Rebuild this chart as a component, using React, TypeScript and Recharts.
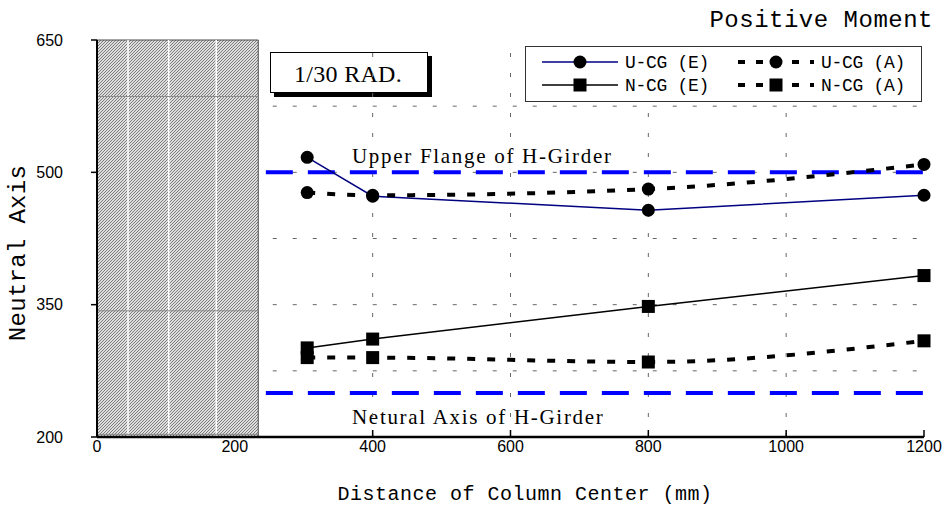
import React from 'react';
import {
  ComposedChart,
  Line,
  XAxis,
  YAxis,
  ReferenceArea,
  ReferenceLine,
  Legend,
  Customized,
} from 'recharts';

// ---- data ----
const distances = [305, 400, 800, 1200];
const ucgE = [517, 473, 457, 474];
const ucgA = [477, 474, 481, 509];
const ncgE = [301, 311, 348, 383];
const ncgA = [290, 290, 285, 309];

const xTicks = [0, 200, 400, 600, 800, 1000, 1200];
const yTicks = [200, 350, 500, 650];
const yGrid = [275, 350, 425, 500, 575];
const xGrid = [400, 600, 800, 1000];
const columnEdge = 234;
const gridStart = 255;
const upperFlange = 500;
const neutralAxisHG = 250;
const refLineStart = 245;
const hatchWhiteX = [45, 104, 173];
const hatchGrayY = [586, 343, 203];
const columnLetters = ['C', 'O', 'L', 'U', 'M', 'N'];

const data = distances.map((d, i) => ({
  x: d,
  ucgE: ucgE[i],
  ucgA: ucgA[i],
  ncgE: ncgE[i],
  ncgA: ncgA[i],
}));

const series = [
  { key: 'ucgE', name: 'U-CG (E)', color: '#000080', width: 1.5, dash: undefined, marker: 'circle', curve: 'linear' },
  { key: 'ncgE', name: 'N-CG (E)', color: '#000000', width: 1.5, dash: undefined, marker: 'square', curve: 'linear' },
  { key: 'ucgA', name: 'U-CG (A)', color: '#000000', width: 4, dash: '8 12', marker: 'circle', curve: 'monotone' },
  { key: 'ncgA', name: 'N-CG (A)', color: '#000000', width: 4, dash: '8 12', marker: 'square', curve: 'monotone' },
];

const MONO = '"Liberation Mono", "DejaVu Sans Mono", monospace';
const SANS = '"Liberation Sans", Arial, sans-serif';
const SERIF = '"Liberation Serif", "DejaVu Serif", serif';

const Circle = (props: any) => {
  const { cx, cy, index } = props;
  if (cx == null || cy == null) return <g key={index} />;
  return <circle key={index} cx={cx} cy={cy} r={6.5} fill="#000" stroke="none" />;
};
const Square = (props: any) => {
  const { cx, cy, index } = props;
  if (cx == null || cy == null) return <g key={index} />;
  return <rect key={index} x={cx - 6.5} y={cy - 6.5} width={13} height={13} fill="#000" stroke="none" />;
};

const XTick = (props: any) => {
  const { x, y, payload } = props;
  return (
    <g>
      {payload.value > columnEdge && (
        <line x1={x} x2={x} y1={y - 7} y2={y} stroke="#000" strokeWidth={1.5} />
      )}
      <text x={x} y={y + 15} textAnchor="middle" fontFamily={SANS} fontSize={16} fill="#000">
        {payload.value}
      </text>
    </g>
  );
};

const LegendContent = () => {
  const rows = [
    [series[0], series[2]],
    [series[1], series[3]],
  ];
  return (
    <svg width={398} height={57} style={{ display: 'block' }}>
      <rect x={0.5} y={0.5} width={396} height={55} fill="#fff" stroke="#333" strokeWidth={1} />
      {rows.map((row, ri) =>
        row.map((s, ci) => {
          const cy = ri === 0 ? 16 : 39;
          const x0 = ci === 0 ? 17 : 213;
          const mx = x0 + 38;
          return (
            <g key={s.key}>
              <line
                x1={x0}
                x2={x0 + 76}
                y1={cy}
                y2={cy}
                stroke={s.color}
                strokeWidth={s.dash ? 4 : 1.5}
                strokeDasharray={s.dash ? '7 11' : undefined}
              />
              {s.marker === 'circle' ? (
                <circle cx={mx} cy={cy} r={6.5} fill="#000" />
              ) : (
                <rect x={mx - 6.5} y={cy - 6.5} width={13} height={13} fill="#000" />
              )}
              <text x={x0 + 83} y={cy + 6} fontFamily={MONO} fontSize={18} letterSpacing={-0.3} fill="#000">
                {s.name}
              </text>
            </g>
          );
        })
      )}
    </svg>
  );
};

const Annotations = () => (
  <g>
    <defs>
      <pattern id="hatch" patternUnits="userSpaceOnUse" width="3" height="3">
        <rect width="3" height="3" fill="#dedede" />
        <path d="M-1,1 l2,-2 M0,3 l3,-3 M2,4 l2,-2" stroke="#7c7c7c" strokeWidth="1" />
      </pattern>
    </defs>
    <text x={933} y={27} textAnchor="end" fontFamily={MONO} fontSize={24} letterSpacing={0.5} fill="#000">
      Positive Moment
    </text>
    <g>
      <rect x={274} y={56} width={158} height={41} fill="#000" />
      <rect x={270.5} y={52.5} width={157} height={40} fill="#fff" stroke="#000" strokeWidth={1} />
      <text x={348} y={82} textAnchor="middle" fontFamily={SERIF} fontSize={24} letterSpacing={0.3} fill="#000">
        1/30 RAD.
      </text>
    </g>
    <g>
      <rect x={152.5} y={114.5} width={40} height={176} fill="#fff" stroke="#000" strokeWidth={1} />
      {columnLetters.map((c, i) => (
        <text key={i} x={172.5} y={140 + i * 29.4} textAnchor="middle" fontFamily={MONO} fontSize={20} fill="#000">
          {c}
        </text>
      ))}
    </g>
    <text x={352} y={163} fontFamily={SERIF} fontSize={21} letterSpacing={1.7} fill="#000">
      Upper Flange of H-Girder
    </text>
    <text x={352} y={424} fontFamily={SERIF} fontSize={21} letterSpacing={1.7} fill="#000">
      Netural Axis of H-Girder
    </text>
    <text
      x={0}
      y={0}
      transform="translate(25,253) rotate(-90)"
      textAnchor="middle"
      fontFamily={MONO}
      fontSize={24}
      letterSpacing={0.3}
      fill="#000"
    >
      Neutral Axis
    </text>
    <text x={525} y={500} textAnchor="middle" fontFamily={MONO} fontSize={20} letterSpacing={0.5} fill="#000">
      Distance of Column Center (mm)
    </text>
  </g>
);

export default function App() {
  return (
    <div style={{ position: 'absolute', left: 0, top: 0, width: 951, height: 518, background: '#fff' }}>
      <ComposedChart
        width={951}
        height={518}
        data={data}
        margin={{ top: 40, right: 27, bottom: 41, left: 7 }}
      >
        <XAxis
          dataKey="x"
          type="number"
          domain={[0, 1200]}
          ticks={xTicks}
          tick={<XTick />}
          tickLine={false}
          tickSize={0}
          tickMargin={0}
          height={40}
          axisLine={{ stroke: '#000', strokeWidth: 2.5 }}
          interval={0}
        />
        <XAxis
          xAxisId="top"
          orientation="top"
          type="number"
          domain={[0, 1200]}
          tick={false}
          tickLine={false}
          height={0}
          axisLine={{ stroke: '#000', strokeWidth: 2 }}
        />
        <YAxis
          type="number"
          domain={[200, 650]}
          ticks={yTicks}
          width={90}
          tickSize={6}
          tickMargin={28}
          interval={0}
          tick={{ fontFamily: SANS, fontSize: 16, fill: '#000' }}
          tickLine={{ stroke: '#000', strokeWidth: 1.5 }}
          axisLine={{ stroke: '#000', strokeWidth: 2 }}
        />
        <YAxis
          yAxisId="right"
          orientation="right"
          type="number"
          domain={[200, 650]}
          tick={false}
          tickLine={false}
          width={0}
          axisLine={{ stroke: '#000', strokeWidth: 2.5 }}
        />

        <ReferenceArea x1={0} x2={columnEdge} y1={200} y2={650} fill="url(#hatch)" fillOpacity={1} stroke="#4a4a4a" strokeWidth={1} />
        {hatchWhiteX.map((v) => (
          <ReferenceLine key={'hw' + v} segment={[{ x: v, y: 200 }, { x: v, y: 650 }]} stroke="#fff" strokeWidth={1.5} />
        ))}
        {hatchGrayY.map((v) => (
          <ReferenceLine key={'hg' + v} segment={[{ x: 0, y: v }, { x: columnEdge, y: v }]} stroke="#8a8a8a" strokeWidth={1} />
        ))}
        {yGrid.map((v) => (
          <ReferenceLine key={'gy' + v} segment={[{ x: gridStart, y: v }, { x: 1200, y: v }]} stroke="#666" strokeWidth={1} strokeDasharray="4 16" />
        ))}
        {xGrid.map((v) => (
          <ReferenceLine key={'gx' + v} x={v} stroke="#666" strokeWidth={1} strokeDasharray="4 16" />
        ))}
        <ReferenceLine
          segment={[{ x: refLineStart, y: upperFlange }, { x: 1200, y: upperFlange }]}
          stroke="#0000ff"
          strokeWidth={4}
          strokeDasharray="27 15"
        />
        <ReferenceLine
          segment={[{ x: refLineStart, y: neutralAxisHG }, { x: 1200, y: neutralAxisHG }]}
          stroke="#0000ff"
          strokeWidth={4}
          strokeDasharray="27 15"
        />

        {series.map((s) => (
          <Line
            key={s.key}
            dataKey={s.key}
            name={s.name}
            type={s.curve as any}
            stroke={s.color}
            strokeWidth={s.width}
            strokeDasharray={s.dash}
            dot={s.marker === 'circle' ? <Circle /> : <Square />}
            activeDot={false}
            isAnimationActive={false}
          />
        ))}

        <Customized component={Annotations} />
        <Legend
          layout="horizontal"
          verticalAlign="middle"
          align="center"
          content={<LegendContent />}
          wrapperStyle={{ position: 'absolute', left: 525, top: 46, width: 398, height: 57 }}
        />
      </ComposedChart>
    </div>
  );
}
